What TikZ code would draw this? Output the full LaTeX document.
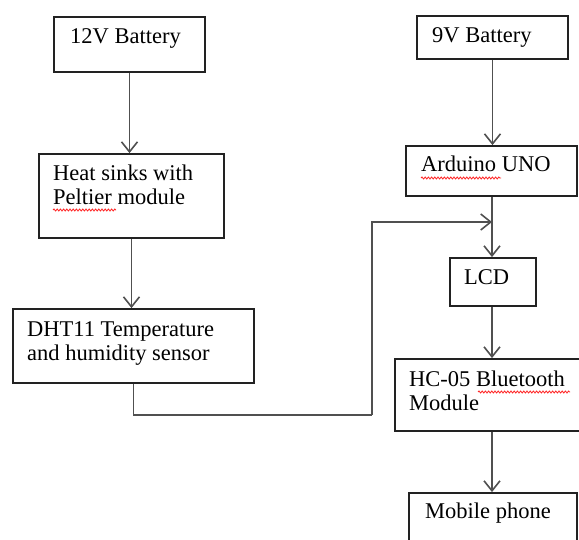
\documentclass[tikz,border=0pt]{standalone}
\usepackage{fontspec}
\setmainfont{Liberation Serif}
\usetikzlibrary{arrows.meta,decorations.pathmorphing}
\definecolor{linegray}{HTML}{505050}
\definecolor{boxline}{HTML}{222222}
\tikzset{
  box/.style={draw=boxline, line width=1.8pt, rectangle, inner sep=0pt, fill=none},
  txt/.style={inner sep=0pt, anchor=base west, font=\fontsize{22.5pt}{24pt}\selectfont, text=black},
  conn/.style={draw=linegray, line width=1.8pt},
  arr/.style={conn, -{Straight Barb[length=10pt,width=16pt,line width=1.6pt]}},
  squig/.style={draw=red!85!white, line width=0.8pt, decorate, decoration={snake, segment length=3.2pt, amplitude=1pt}}
}
\begin{document}
\begin{tikzpicture}[x=1pt,y=-1pt]
\clip (0,0) rectangle (579,540);
\fill[white] (0,0) rectangle (579,540);
% boxes
\node[box, minimum width=151pt, minimum height=55pt] (b1) at (129.5,44.5) {};
\node[box, minimum width=185pt, minimum height=84pt] (b2) at (131.5,196) {};
\node[box, minimum width=241pt, minimum height=74pt] (b3) at (133.5,346) {};
\node[box, minimum width=151pt, minimum height=43pt] (b9) at (492.5,37.5) {};
\node[box, minimum width=171pt, minimum height=50pt] (ard) at (491.5,171) {};
\node[box, minimum width=86pt, minimum height=48pt] (lcd) at (493,282) {};
\node[box, minimum width=200pt, minimum height=72pt] (hc) at (495,395) {};
\node[box, minimum width=168pt, minimum height=67pt] (mob) at (493,526.5) {};
% texts
\node[txt] (t1) at (70,44) {12V Battery};
\node[txt] (t2a) at (53,181) {Heat sinks with};
\node[txt] (t2b) at (53,205) {Peltier module};
\node[txt] (t3a) at (27,337) {DHT11 Temperature};
\node[txt] (t3b) at (27,361) {and humidity sensor};
\node[txt] (t9) at (432,43) {9V Battery};
\node[txt] (ta) at (421,172) {Arduino UNO};
\node[txt] (tl) at (464,285) {LCD};
\node[txt] (th1) at (409,386) {HC-05 Bluetooth};
\node[txt] (th2) at (409,410) {Module};
\node[txt] (tm) at (425,518) {Mobile phone};
% spell-check underlines
\draw[squig] (53,210) -- (116,210);
\draw[squig] (421,178) -- (501,178);
\draw[squig] (478,392) -- (570,392);
% connectors
\coordinate (j) at (492,222);
\coordinate (k1) at (372,415);
\draw[arr] (b1.south) -- (b1.south |- b2.north);
\draw[arr] (b2.south) -- (b2.south |- b3.north);
\draw[conn] (b3.south) |- (k1);
\draw[arr] (k1) |- (j);
\draw[arr] (b9.south) -- (b9.south |- ard.north);
\draw[arr] (j |- ard.south) -- (j |- lcd.north);
\draw[arr] (j |- lcd.south) -- (j |- hc.north);
\draw[arr] (j |- hc.south) -- (j |- mob.north);
\end{tikzpicture}
\end{document}
